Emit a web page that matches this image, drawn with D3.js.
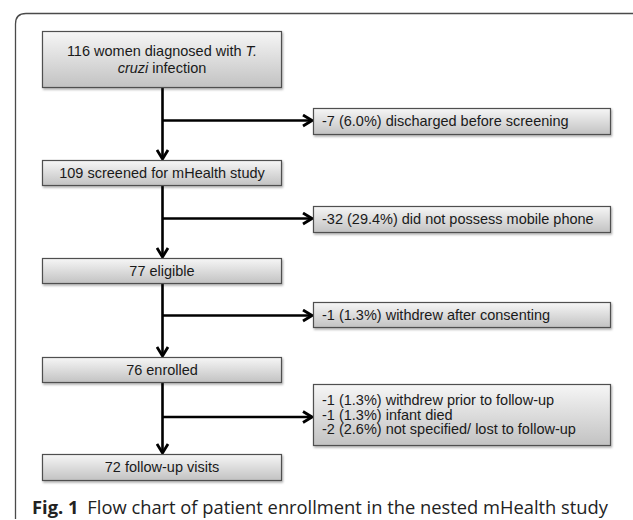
<!DOCTYPE html>
<html>
<head>
<meta charset="utf-8">
<script src="https://cdn.jsdelivr.net/npm/d3@7"></script>
<style>
  body { margin: 0; background: #fff; }
  svg { display: block; }
</style>
</head>
<body>
<div id="vis"></div>
<script>
// flow steps (main column) and the exclusions branching off between them
var stepCounts = [116, 109, 77, 76, 72];
var stepLabels = [
    ['116 women diagnosed with |T.|', '|cruzi| infection'],
    ['109 screened for mHealth study'],
    ['77 eligible'],
    ['76 enrolled'],
    ['72 follow-up visits']
];
var exclusionLabels = [
    ['-7 (6.0%) discharged before screening'],
    ['-32 (29.4%) did not possess mobile phone'],
    ['-1 (1.3%) withdrew after consenting'],
    ['-1 (1.3%) withdrew prior to follow-up', '-1 (1.3%) infant died', '-2 (2.6%) not specified/ lost to follow-up']
];
var caption = ['Fig. 1', 'Flow chart of patient enrollment in the nested mHealth study'];

var W = 633, H = 520;
var font = '"Liberation Sans", Arial, sans-serif';

var svg = d3.select('#vis').append('svg')
    .attr('width', W)
    .attr('height', H);

var defs = svg.append('defs');
var grad = defs.append('linearGradient')
    .attr('id', 'boxfill')
    .attr('x1', 0).attr('y1', 0).attr('x2', 0).attr('y2', 1);
grad.append('stop').attr('offset', '0%').attr('stop-color', '#f6f6f6');
grad.append('stop').attr('offset', '100%').attr('stop-color', '#c2c2c2');

var shadow = defs.append('filter').attr('id', 'shadow')
    .attr('x', '-5%').attr('y', '-20%').attr('width', '110%').attr('height', '150%');
shadow.append('feDropShadow')
    .attr('dx', 1).attr('dy', 1.5).attr('stdDeviation', 1)
    .attr('flood-color', '#000').attr('flood-opacity', 0.35);

var marker = defs.append('marker')
    .attr('id', 'chev')
    .attr('viewBox', '0 0 14 14')
    .attr('refX', 12).attr('refY', 7)
    .attr('markerWidth', 14).attr('markerHeight', 14)
    .attr('markerUnits', 'userSpaceOnUse')
    .attr('orient', 'auto');
marker.append('path')
    .attr('d', 'M3,1.5 L12,7 L3,12.5')
    .attr('fill', 'none')
    .attr('stroke', '#000')
    .attr('stroke-width', 2.8)
    .attr('stroke-linejoin', 'miter');

// outer frame: top + left with rounded corner
svg.append('path')
    .attr('d', 'M15.5,519 L15.5,24 Q15.5,13.5 26,13.5 L633,13.5')
    .attr('fill', 'none')
    .attr('stroke', '#4a4a4a')
    .attr('stroke-width', 1.3);

// layout
var mainX = d3.scaleLinear().domain([0, 1]).range([42, 281]);
var sideX = d3.scaleLinear().domain([0, 1]).range([313, 610]);
var stepIdx = d3.range(stepCounts.length);
var stepTop = d3.scaleOrdinal().domain(stepIdx).range([31, 160, 258, 357, 454]);
var stepH = d3.scaleOrdinal().domain(stepIdx).range([56, 25, 25, 25, 26]);
var exIdx = d3.range(exclusionLabels.length);
var exTop = d3.scaleOrdinal().domain(exIdx).range([108, 206, 302, 384]);
var exH = d3.scaleOrdinal().domain(exIdx).range([26, 26, 25, 61]);
var branchY = d3.scaleOrdinal().domain(exIdx).range([120.5, 218.5, 315.5, 417]);
var lineX = 162.5;

// connectors
var conn = svg.append('g');
conn.selectAll('line.down')
    .data(stepIdx.slice(1))
    .enter().append('line')
    .attr('class', 'down')
    .attr('x1', lineX).attr('x2', lineX)
    .attr('y1', function(i) { return stepTop(i - 1) + stepH(i - 1); })
    .attr('y2', function(i) { return stepTop(i) - 1; })
    .attr('stroke', '#000')
    .attr('stroke-width', 2.6)
    .attr('marker-end', 'url(#chev)');

conn.selectAll('line.side')
    .data(exIdx)
    .enter().append('line')
    .attr('class', 'side')
    .attr('x1', lineX).attr('x2', sideX(0) - 1)
    .attr('y1', function(i) { return branchY(i); })
    .attr('y2', function(i) { return branchY(i); })
    .attr('stroke', '#000')
    .attr('stroke-width', 2.6)
    .attr('marker-end', 'url(#chev)');

function addText(g, lines, x, y0, lh, anchor) {
    lines.forEach(function(line, k) {
        var t = g.append('text')
            .attr('x', x)
            .attr('y', y0 + k * lh)
            .attr('text-anchor', anchor)
            .attr('font-family', font)
            .attr('font-size', 14.5)
            .attr('fill', '#1a1a1a');
        line.split('|').forEach(function(part, j) {
            if (!part) return;
            t.append('tspan')
                .attr('font-style', j % 2 ? 'italic' : 'normal')
                .text(part);
        });
    });
}

// main boxes
var steps = svg.append('g');
stepIdx.forEach(function(i) {
    var g = steps.append('g');
    g.append('rect')
        .attr('x', mainX(0) + 0.5).attr('y', stepTop(i) + 0.5)
        .attr('width', mainX(1) - mainX(0)).attr('height', stepH(i))
        .attr('fill', 'url(#boxfill)')
        .attr('stroke', '#505050')
        .attr('stroke-width', 1.2)
        .attr('filter', 'url(#shadow)');
    var lines = stepLabels[i];
    var lh = 17;
    var y0 = stepTop(i) + stepH(i) / 2 - (lines.length - 1) * lh / 2 + 5;
    addText(g, lines, (mainX(0) + mainX(1)) / 2 + 0.5, y0, lh, 'middle');
});

// exclusion boxes
var ex = svg.append('g');
exIdx.forEach(function(i) {
    var g = ex.append('g');
    g.append('rect')
        .attr('x', sideX(0) + 0.5).attr('y', exTop(i) + 0.5)
        .attr('width', sideX(1) - sideX(0)).attr('height', exH(i))
        .attr('fill', 'url(#boxfill)')
        .attr('stroke', '#505050')
        .attr('stroke-width', 1.2)
        .attr('filter', 'url(#shadow)');
    var lines = exclusionLabels[i];
    var lh = 14.5;
    var y0 = exTop(i) + exH(i) / 2 - (lines.length - 1) * lh / 2 + 5;
    addText(g, lines, sideX(0) + 9, y0, lh, 'start');
});

// caption
var cap = svg.append('text')
    .attr('x', 32)
    .attr('y', 514)
    .attr('font-family', '"Open Sans", "Noto Sans", sans-serif')
    .attr('font-size', 18.5)
    .attr('fill', '#222');
cap.append('tspan').attr('font-weight', 'bold').text(caption[0]);
cap.append('tspan').attr('dx', 9).text(caption[1]);
cap.attr('textLength', 576).attr('lengthAdjust', 'spacingAndGlyphs');
</script>
</body>
</html>
